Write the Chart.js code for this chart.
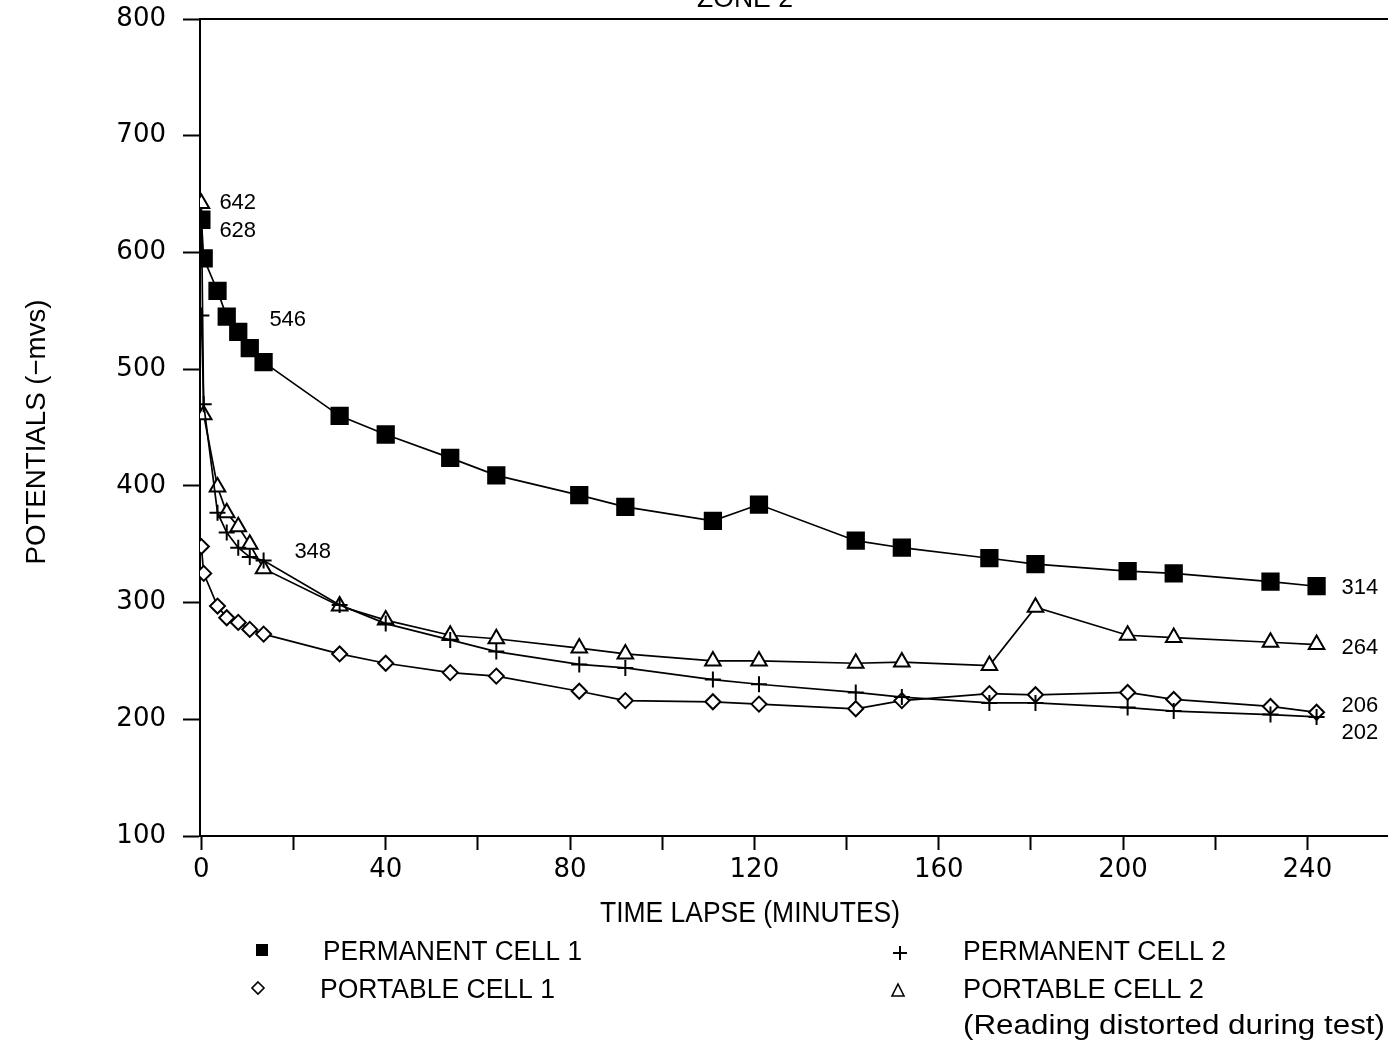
<!DOCTYPE html>
<html>
<head>
<meta charset="utf-8">
<script src="https://cdn.jsdelivr.net/npm/chart.js@4/dist/chart.umd.min.js"></script>
<style>
  html, body { margin: 0; padding: 0; background: #fff; }
  #wrap { width: 1388px; height: 1043px; }
</style>
</head>
<body>
<div id="wrap"><canvas id="zoneChart" width="1388" height="1043"></canvas></div>
<script>
// === DATA ===
const minutes = [0, 0.5, 3.5, 5.5, 8, 10.5, 13.5, 30, 40, 54, 64, 82, 92, 111, 121, 142, 152, 171, 181, 201, 211, 232, 242];
const permanentCell1 = [628, 595, 567, 545, 532, 518, 506, 460, 444, 424, 409, 392, 382, 370, 384, 353, 347, 338, 333, 327, 325, 318, 314];
const permanentCell2 = [546, 470, 377, 360, 347, 339, 336, 298, 282, 268, 258, 247, 244, 234, 230, 223, 219, 214, 214, 210, 207, 204, 202];
const portableCell1  = [348, 325, 297, 287, 283, 277, 273, 256, 248, 240, 237, 224, 216, 215, 213, 209, 216, 222, 221, 223, 217, 211, 206];
const portableCell2  = [642, 461, 399, 377, 365, 350, 329, 297, 285, 272, 269, 261, 256, 250, 250, 248, 249, 246, 296, 272, 270, 266, 264];

const xTicks = [0, 20, 40, 60, 80, 100, 120, 140, 160, 180, 200, 220, 240];
const xLabelStep = 40;
const yTicks = [100, 200, 300, 400, 500, 600, 700, 800];

const seriesNames = ['PERMANENT CELL 1', 'PERMANENT CELL 2', 'PORTABLE CELL 1', 'PORTABLE CELL 2'];
const chartTitle = 'ZONE 2';
const xTitle = 'TIME LAPSE (MINUTES)';
const yTitle = 'POTENTIALS (\u2212mvs)';
const noteText = '(Reading distorted during test)';

// === HELPERS ===
const pts = vals => vals.map((v, i) => ({ x: minutes[i], y: v }));
const TEXT_FONT = '"Liberation Sans", Arial, sans-serif';
const TICK_FONT = '"DejaVu Sans", sans-serif';

// text squeezed/stretched to a given width (the scan uses a narrow plotter font)
function fitText(ctx, text, x, y, width, px, center) {
    ctx.save();
    ctx.font = px + 'px ' + TEXT_FONT;
    const w = ctx.measureText(text).width;
    ctx.translate(x, y);
    ctx.scale(width / w, 1);
    ctx.fillText(text, center ? -w / 2 : 0, 0);
    ctx.restore();
}

function marker(ctx, style, x, y, s) {
    ctx.save();
    ctx.lineWidth = 2;
    ctx.strokeStyle = '#000';
    ctx.fillStyle = '#000';
    ctx.beginPath();
    if (style === 'rect') {
        ctx.fillRect(x - s / 2, y - s / 2, s, s);
    } else if (style === 'cross') {
        ctx.moveTo(x - s / 2, y); ctx.lineTo(x + s / 2, y);
        ctx.moveTo(x, y - s / 2); ctx.lineTo(x, y + s / 2);
        ctx.stroke();
    } else if (style === 'rectRot') {
        ctx.moveTo(x, y - s / 2); ctx.lineTo(x + s / 2, y);
        ctx.lineTo(x, y + s / 2); ctx.lineTo(x - s / 2, y); ctx.closePath();
        ctx.lineWidth = 1.6; ctx.stroke();
    } else if (style === 'triangle') {
        ctx.moveTo(x, y - s / 2); ctx.lineTo(x + s / 2, y + s / 2);
        ctx.lineTo(x - s / 2, y + s / 2); ctx.closePath();
        ctx.lineWidth = 1.6; ctx.stroke();
    }
    ctx.restore();
}

// === ANNOTATIONS, TITLES, LEGEND ===
const decorPlugin = {
    id: 'decor',
    afterDraw(chart) {
        const ctx = chart.ctx;
        const xs = chart.scales.x, ys = chart.scales.y;
        const area = chart.chartArea;

        // frame line at the top value
        ctx.save();
        ctx.strokeStyle = '#000';
        ctx.lineWidth = 2;
        ctx.beginPath();
        ctx.moveTo(area.left, ys.getPixelForValue(yTicks[yTicks.length - 1]));
        ctx.lineTo(area.right, ys.getPixelForValue(yTicks[yTicks.length - 1]));
        ctx.stroke();
        ctx.restore();

        ctx.save();
        ctx.fillStyle = '#000';
        ctx.textBaseline = 'alphabetic';

        fitText(ctx, chartTitle, 745, 7, 96, 28, true);
        fitText(ctx, xTitle, 750, 922, 300, 30, true);

        ctx.save();
        ctx.translate(45, 432);
        ctx.rotate(-Math.PI / 2);
        fitText(ctx, yTitle, 0, 0, 265, 28, true);
        ctx.restore();

        // value labels at both ends of the curves
        ctx.font = '22px ' + TEXT_FONT;
        ctx.textBaseline = 'middle';
        ctx.textAlign = 'left';
        const last = a => a.length - 1;
        const labels = [
            [portableCell2, 0, 18, 0],
            [permanentCell1, 0, 18, 11],
            [permanentCell2, 0, 68, 4],
            [portableCell1, 0, 93, 5],
            [permanentCell1, last(permanentCell1), 25, 2],
            [portableCell2, last(portableCell2), 25, 3],
            [portableCell1, last(portableCell1), 25, -6],
            [permanentCell2, last(permanentCell2), 25, 16]
        ];
        labels.forEach(([arr, i, dx, dy]) => {
            const px = xs.getPixelForValue(minutes[i]);
            const py = ys.getPixelForValue(arr[i]);
            ctx.fillText(String(arr[i]), px + dx, py + dy);
        });

        // legend
        ctx.textBaseline = 'alphabetic';
        marker(ctx, 'rect', 262, 950, 12);
        fitText(ctx, seriesNames[0], 323, 960, 259, 27, false);
        marker(ctx, 'rectRot', 258, 988, 12);
        fitText(ctx, seriesNames[2], 320, 998, 235, 27, false);
        marker(ctx, 'cross', 900, 953, 14);
        fitText(ctx, seriesNames[1], 963, 960, 263, 27, false);
        marker(ctx, 'triangle', 898, 990, 12);
        fitText(ctx, seriesNames[3], 963, 998, 241, 27, false);
        fitText(ctx, noteText, 963, 1034, 422, 27, false);
        ctx.restore();
    }
};

// === CHART ===
function lineSet(label, vals, style, radius, fill) {
    return {
        label: label,
        data: pts(vals),
        borderColor: '#000',
        borderWidth: 1.7,
        pointStyle: style,
        pointRadius: radius,
        pointBorderWidth: 2,
        pointBorderColor: '#000',
        pointBackgroundColor: fill,
        tension: 0
    };
}

new Chart(document.getElementById('zoneChart'), {
    type: 'line',
    data: {
        datasets: [
            lineSet(seriesNames[0], permanentCell1, 'rect', 11.5, '#000'),
            lineSet(seriesNames[1], permanentCell2, 'cross', 8, '#000'),
            lineSet(seriesNames[2], portableCell1, 'rectRot', 7.5, '#fff'),
            lineSet(seriesNames[3], portableCell2, 'triangle', 9, '#fff')
        ]
    },
    options: {
        responsive: false,
        animation: false,
        layout: { autoPadding: false, padding: { top: 19, left: 0, right: 0, bottom: 147 } },
        plugins: { legend: { display: false }, tooltip: { enabled: false } },
        scales: {
            x: {
                type: 'linear',
                min: -0.3,
                max: 257.5,
                afterBuildTicks: s => { s.ticks = xTicks.map(v => ({ value: v })); },
                afterFit: s => { s.height = 60; s.paddingLeft = 0; s.paddingRight = 0; },
                grid: { drawOnChartArea: false, drawTicks: true, tickLength: 14, tickWidth: 2, tickColor: '#000' },
                border: { display: true, color: '#000', width: 2 },
                ticks: {
                    autoSkip: false, maxRotation: 0, padding: 5, color: '#000',
                    font: { family: TICK_FONT, size: 26 },
                    callback: v => (v % xLabelStep === 0 ? v : '')
                }
            },
            y: {
                type: 'linear',
                min: yTicks[0],
                max: yTicks[yTicks.length - 1],
                afterBuildTicks: s => { s.ticks = yTicks.map(v => ({ value: v })); },
                afterFit: s => { s.width = 200; s.paddingTop = 0; s.paddingBottom = 0; },
                grid: { drawOnChartArea: false, drawTicks: true, tickLength: 17, tickWidth: 2, tickColor: '#000' },
                border: { display: true, color: '#000', width: 2 },
                ticks: { padding: 17, color: '#000', font: { family: TICK_FONT, size: 26 } }
            }
        }
    },
    plugins: [decorPlugin]
});
</script>
</body>
</html>
